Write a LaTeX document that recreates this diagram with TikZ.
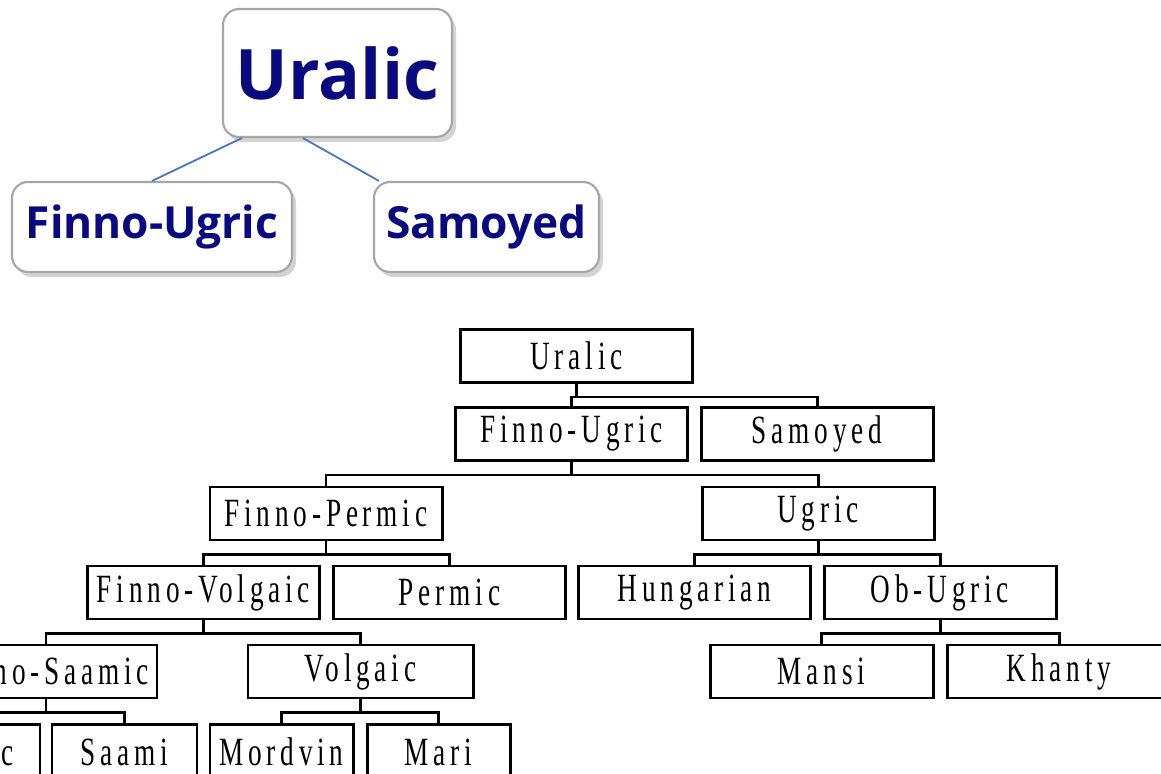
\documentclass[tikz,border=0pt]{standalone}
\usepackage{fontspec}
\usetikzlibrary{shadows}
\newfontfamily\bubblefont{Open Sans}
\newfontfamily\treefont[FakeStretch=0.68,LetterSpace=12]{Liberation Serif}
\definecolor{bubbletext}{HTML}{0A0A80}
\definecolor{bubbleline}{HTML}{4472C4}
\begin{document}
\begin{tikzpicture}
        [bubble/.style={
             draw=gray!70,
             fill=white,
             line width=0.6pt,
             rounded corners=0.16cm,
             inner xsep=1pt,
             text=bubbletext,
             drop shadow={shadow xshift=0.04cm, shadow yshift=-0.05cm,
                 opacity=0.35, fill=gray}
         },
         link/.style={
             bubbleline,
             line width=0.5pt
         },
         langbox/.style={
             draw,
             fill=white,
             line width=0.85pt,
             inner sep=0pt,
             minimum width=2.32cm,
             minimum height=0.53cm,
             font=\treefont\fontsize{11.4}{13}\selectfont
         },
         smallbox/.style={
             langbox,
             minimum width=1.44cm,
             minimum height=0.56cm
         },
         fork/.style={
             line width=0.85pt
         }
         ]
        \useasboundingbox (0,0) rectangle (11.61,-7.74);
        \clip (0,0) rectangle (11.61,-7.74);

        \node[bubble, minimum width=2.29cm, minimum height=1.28cm,
              font=\bubblefont\bfseries\fontsize{19.8}{23}\selectfont]
              (tural) at (3.375,-0.73) {Uralic};
        \node[bubble, minimum width=2.80cm, minimum height=0.90cm,
              font=\bubblefont\bfseries\fontsize{12.6}{15}\selectfont]
              (tfinno) at (1.52,-2.27) {Finno-Ugric};
        \node[bubble, minimum width=2.25cm, minimum height=0.90cm,
              font=\bubblefont\bfseries\fontsize{12.6}{15}\selectfont]
              (tsamo) at (4.865,-2.27) {Samoyed};
        \draw[link] ([xshift=0.2cm]tural.south west) -- (tfinno.north);
        \draw[link] ([xshift=0.81cm]tural.south west) -- ([xshift=0.06cm]tsamo.north west);

        \node[langbox] (ural) at (5.765,-3.56) {Uralic};
        \node[langbox] (finugr) at (5.715,-4.34) {Finno-Ugric};
        \node[langbox] (samo) at (8.17,-4.34) {Samoyed};
        \node[langbox] (finperm) at (3.26,-5.135) {Finno-Permic};
        \node[langbox] (ugric) at (8.18,-5.135) {Ugric};
        \node[langbox] (finvolg) at (2.035,-5.925) {Finno-Volgaic};
        \node[langbox] (perm) at (4.495,-5.925) {Permic};
        \node[langbox] (hung) at (6.945,-5.925) {Hungarian};
        \node[langbox] (obugr) at (9.40,-5.925) {Ob-Ugric};
        \node[langbox, minimum width=2.22cm] (finsaam) at (0.46,-6.715) {Finno-Saamic};
        \node[langbox, minimum width=2.25cm] (volg) at (3.605,-6.715) {Volgaic};
        \node[langbox, minimum width=2.23cm] (mansi) at (8.215,-6.715) {Mansi};
        \node[langbox, minimum width=2.24cm] (khanty) at (10.59,-6.715) {Khanty};
        \node[smallbox, minimum width=1.46cm] (finnic) at (-0.33,-7.52) {Finnic};
        \node[smallbox, minimum width=1.45cm] (saami) at (1.245,-7.52) {Saami};
        \node[smallbox, minimum width=1.43cm] (mordvin) at (2.815,-7.52) {Mordvin};
        \node[smallbox, minimum width=1.43cm] (mari) at (4.385,-7.52) {Mari};

        \foreach \p/\c in {ural/finugr, ural/samo, finugr/finperm, finugr/ugric,
                           finperm/finvolg, finperm/perm, ugric/hung, ugric/obugr,
                           finvolg/finsaam, finvolg/volg, obugr/mansi, obugr/khanty,
                           finsaam/finnic, finsaam/saami, volg/mordvin, volg/mari}
            \draw[fork] (\p.south) -- ++(0,-0.13) -| (\c.north);
    \end{tikzpicture}
\end{document}
